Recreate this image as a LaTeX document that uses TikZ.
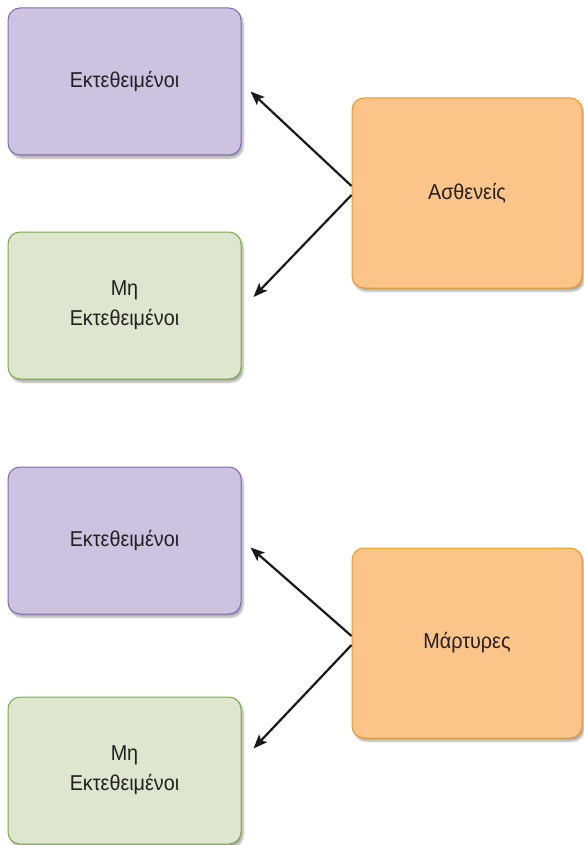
\documentclass[tikz,border=0pt]{standalone}
\usepackage{fontspec}
\setmainfont[FakeStretch=0.92]{Liberation Sans}
\usetikzlibrary{arrows.meta,shadows.blur}
\definecolor{pfill}{HTML}{CCC3E1}
\definecolor{pdraw}{HTML}{8468B2}
\definecolor{gfill}{HTML}{DEE6CF}
\definecolor{gdraw}{HTML}{7BAA47}
\definecolor{ofill}{HTML}{FBC58A}
\definecolor{odraw}{HTML}{F7941D}
\definecolor{txt}{HTML}{231F20}
\tikzset{
  box/.style={rectangle, rounded corners=12pt, line width=1pt, inner sep=0pt,
    align=center, text=txt, font=\fontsize{21.5}{30}\selectfont,
    blur shadow={shadow blur steps=6, shadow xshift=2pt, shadow yshift=-3pt, shadow opacity=35}},
  pbox/.style={box, fill=pfill, draw=pdraw, minimum width=233pt, minimum height=147pt},
  gbox/.style={box, fill=gfill, draw=gdraw, minimum width=233pt, minimum height=147pt},
  obox/.style={box, fill=ofill, draw=odraw, minimum width=230pt, minimum height=190pt},
  conn/.style={line width=2.2pt, -{Stealth[length=14pt,width=11pt,inset=3pt]}, black!90}
}
\begin{document}
\begin{tikzpicture}[x=1pt,y=-1pt]
\useasboundingbox (0,0) rectangle (583,845);
\node[pbox] (p1) at (124.5,81.5) {Εκτεθειμένοι};
\node[gbox] (g1) at (124.5,305.5) {Μη\\Εκτεθειμένοι};
\node[obox] (o1) at (467,193) {Ασθενείς};
\node[pbox] (p2) at (124.5,540.5) {Εκτεθειμένοι};
\node[gbox] (g2) at (124.5,770.5) {Μη\\Εκτεθειμένοι};
\node[obox] (o2) at (467,643) {Μάρτυρες};
\draw[conn] ([yshift=7pt]o1.west) -- ([xshift=9pt,yshift=-10pt]p1.east);
\draw[conn] ([yshift=-2pt]o1.west) -- ([xshift=12pt,yshift=8.5pt]g1.east);
\draw[conn] ([yshift=7pt]o2.west) -- ([xshift=9pt,yshift=-7pt]p2.east);
\draw[conn] ([yshift=-2pt]o2.west) -- ([xshift=12pt,yshift=22pt]g2.east);
\end{tikzpicture}
\end{document}
